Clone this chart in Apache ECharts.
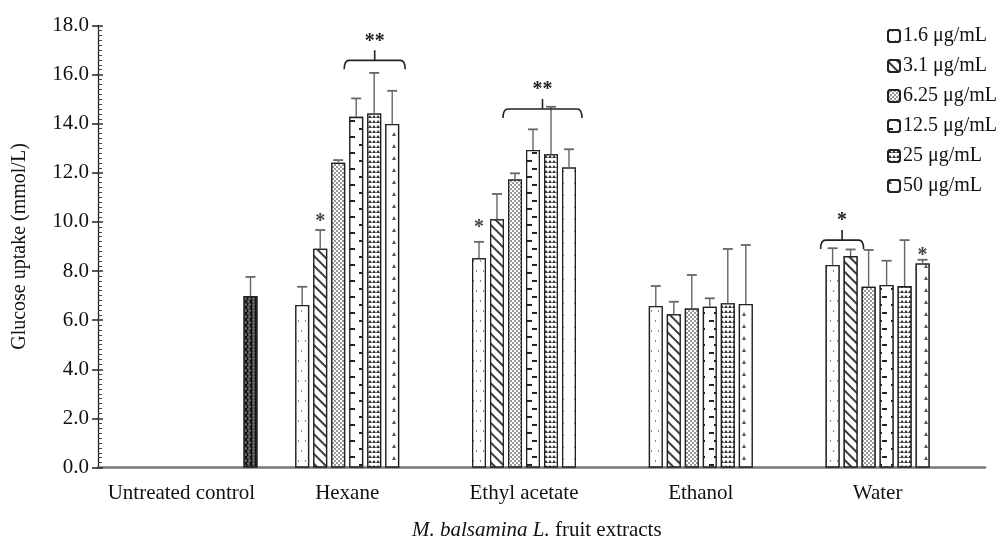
<!DOCTYPE html>
<html>
<head>
<meta charset="utf-8">
<script src="https://cdn.jsdelivr.net/npm/echarts@6/dist/echarts.min.js"></script>
<style>
  html, body { margin: 0; padding: 0; background: #fff; }
  #chart { width: 1006px; height: 542px; }
</style>
</head>
<body>
<div id="chart"></div>
<script>
// Extract categories and concentration levels
const categories = ['Untreated control', 'Hexane', 'Ethyl acetate', 'Ethanol', 'Water'];
const concentrations = ['1.6 μg/mL', '3.1 μg/mL', '6.25 μg/mL', '12.5 μg/mL', '25 μg/mL', '50 μg/mL'];

// Mean glucose uptake (mmol/L) per extract, one array per concentration
const mean_1_6  = [null, 6.62, 8.52, 6.58, 8.25];
const mean_3_1  = [null, 8.91, 10.11, 6.24, 8.61];
const mean_6_25 = [null, 12.41, 11.73, 6.48, 7.36];
const mean_12_5 = [null, 14.28, 12.93, 6.55, 7.43];
const mean_25   = [null, 14.42, 12.76, 6.69, 7.39];
const mean_50   = [null, 13.99, 12.22, 6.66, 8.31];

// Standard deviations (upper error bars)
const sd_1_6  = [null, 0.74, 0.67, 0.81, 0.68];
const sd_3_1  = [null, 0.76, 1.03, 0.51, 0.27];
const sd_6_25 = [null, 0.11, 0.25, 1.36, 1.50];
const sd_12_5 = [null, 0.75, 0.84, 0.34, 0.99];
const sd_25   = [null, 1.65, 1.93, 2.21, 1.87];
const sd_50   = [null, 1.35, 0.74, 2.40, 0.15];

// Untreated control
const controlMean = 6.98;
const controlSd = 0.78;

// Y axis ticks
const yTicks = [0, 2, 4, 6, 8, 10, 12, 14, 16, 18];

// Significance: grouped brackets (extract index, first and last concentration, level, mark)
const bracketCats  = [1, 2, 4];
const bracketFrom  = [3, 2, 0];
const bracketTo    = [5, 5, 1];
const bracketLevel = [16.58, 14.6, 9.26];
const bracketMarks = ['**', '**', '*'];

// Significance: single bars (extract index, concentration index, level)
const starCats   = [1, 2, 4];
const starSlots  = [1, 0, 5];
const starLevels = [10.0, 9.75, 8.62];

const means = [mean_1_6, mean_3_1, mean_6_25, mean_12_5, mean_25, mean_50];
const sds = [sd_1_6, sd_3_1, sd_6_25, sd_12_5, sd_25, sd_50];

const BAR_W = 14;
const BAR_GAP = 4;
const PITCH = BAR_W + BAR_GAP;
const N = concentrations.length;
const FONT = '"Liberation Serif", "Times New Roman", serif';

const decals = [
  { symbol: 'rect', symbolSize: 1, color: '#8a8a8a', backgroundColor: '#fff', dashArrayX: [[1, 6], [0, 4, 1, 2]], dashArrayY: [1.5, 8] },
  { symbol: 'rect', symbolSize: 1, color: '#3a3a3a', backgroundColor: '#fff', dashArrayX: [1, 0], dashArrayY: [1.6, 5], rotation: Math.PI / 4 },
  { symbol: 'circle', symbolSize: 0.9, color: '#6a6a6a', backgroundColor: '#fff', dashArrayX: [[2, 2], [0, 2, 2, 0]], dashArrayY: [2, 0] },
  { symbol: 'rect', symbolSize: 1, color: '#222', backgroundColor: '#fff', dashArrayX: [[5, 9], [0, 9, 5, 0]], dashArrayY: [2, 6] },
  { symbol: 'triangle', symbolSize: 1, color: '#333', backgroundColor: '#fff', dashArrayX: [4, 0], dashArrayY: [3, 1.5] },
  { symbol: 'triangle', symbolSize: 1, color: '#555', backgroundColor: '#fff', dashArrayX: [4, 10], dashArrayY: [4, 8] }
];
const controlDecal = { symbol: 'circle', symbolSize: 1, color: '#6a6a6a', backgroundColor: '#111', dashArrayX: [[3, 1], [0, 2, 3, 0]], dashArrayY: [3, 0] };

// Error bar data: [category, mean, top, slot, slotsInGroup]
const errData = [];
for (let s = 0; s < N; s++) {
  for (let c = 0; c < categories.length; c++) {
    if (means[s][c] == null) continue;
    errData.push([c, means[s][c], means[s][c] + sds[s][c], s, N]);
  }
}
const controlErrData = [[0, controlMean, controlMean + controlSd, 0, 1]];

function slotX(api, cat, val, slot, n) {
  const p = api.coord([cat, val]);
  return p[0] + (slot - (n - 1) / 2) * PITCH;
}

function renderError(params, api) {
  const cat = api.value(0), mean = api.value(1), top = api.value(2), slot = api.value(3), n = api.value(4);
  const x = slotX(api, cat, mean, slot, n);
  const y0 = api.coord([cat, mean])[1];
  const y1 = api.coord([cat, top])[1];
  const half = 5;
  return {
    type: 'group',
    children: [
      { type: 'line', shape: { x1: x, y1: y0, x2: x, y2: y1 }, style: { stroke: '#666', lineWidth: 1.4 } },
      { type: 'line', shape: { x1: x - half, y1: y1, x2: x + half, y2: y1 }, style: { stroke: '#666', lineWidth: 1.8 } }
    ]
  };
}

const bracketData = bracketCats.map((c, i) => [c, bracketLevel[i], bracketFrom[i], bracketTo[i]]);
function renderBracket(params, api) {
  const cat = api.value(0), lvl = api.value(1), from = api.value(2), to = api.value(3);
  const y = api.coord([cat, lvl])[1];
  const x1 = slotX(api, cat, lvl, from, N) - BAR_W / 2 - 5;
  const x2 = slotX(api, cat, lvl, to, N) + BAR_W / 2 + 6;
  const cx = (x1 + x2) / 2;
  const r = 5;
  const path = `M${x1} ${y + 9} Q${x1} ${y} ${x1 + r} ${y} L${x2 - r} ${y} Q${x2} ${y} ${x2} ${y + 9} M${cx} ${y} L${cx} ${y - 10}`;
  return {
    type: 'group',
    children: [
      { type: 'path', shape: { pathData: path }, style: { fill: null, stroke: '#222', lineWidth: 1.6 } },
      { type: 'text', style: { x: cx, y: y - 19, text: bracketMarks[params.dataIndex], textAlign: 'center', textVerticalAlign: 'middle', font: 'bold 20px ' + FONT, fill: '#222' } }
    ]
  };
}

const starData = starCats.map((c, i) => [c, starLevels[i], starSlots[i]]);
function renderStar(params, api) {
  const cat = api.value(0), lvl = api.value(1), slot = api.value(2);
  const x = slotX(api, cat, lvl, slot, N);
  const y = api.coord([cat, lvl])[1];
  return { type: 'text', style: { x: x, y: y, text: '*', textAlign: 'center', textVerticalAlign: 'middle', font: 'bold 20px ' + FONT, fill: '#444' } };
}

const barSeries = concentrations.map((name, s) => ({
  type: 'bar',
  name: name,
  xAxisIndex: 0,
  yAxisIndex: 0,
  data: means[s],
  barWidth: BAR_W,
  barGap: (BAR_GAP / BAR_W * 100) + '%',
  itemStyle: { color: '#fff', borderColor: '#222', borderWidth: 1.3, decal: decals[s] },
  z: 2
}));

const option = {
  animation: false,
  backgroundColor: '#fff',
  textStyle: { fontFamily: FONT, color: '#111' },
  title: {
    text: '{i|M. balsamina L.} fruit extracts',
    left: 407,
    top: 515,
    textStyle: {
      fontFamily: FONT, fontSize: 21, fontWeight: 'normal', color: '#111',
      rich: { i: { fontFamily: FONT, fontSize: 21, fontStyle: 'italic', color: '#111' } }
    }
  },
  legend: {
    data: concentrations,
    orient: 'vertical',
    left: 882,
    top: 21,
    icon: 'roundRect',
    itemWidth: 12,
    itemHeight: 12,
    itemGap: 10,
    textStyle: { fontFamily: FONT, fontSize: 20, color: '#111', lineHeight: 20, padding: [0, 0, 0, -2] }
  },
  grid: [
    { left: 82, width: 884, top: 25.5, bottom: 74.5 },
    { left: 98, right: 21, top: 25.5, bottom: 74.5 },
    { left: 230.5, width: 40, top: 25.5, bottom: 74.5 }
  ],
  xAxis: [
    {
      gridIndex: 0, type: 'category', data: categories,
      axisLine: { show: false }, axisTick: { show: false },
      axisLabel: {
        interval: 0, margin: 15, fontSize: 21, color: '#111', fontFamily: FONT,
        formatter: (v, i) => i === 0 ? '{c|' + v + '}' : v,
        rich: { c: { fontSize: 21, fontFamily: FONT, color: '#111', padding: [0, 0, 0, 22] } }
      }
    },
    {
      gridIndex: 1, type: 'value', min: 0, max: 1,
      axisLine: { show: true, lineStyle: { color: '#777', width: 2.5 } },
      axisTick: { show: false }, axisLabel: { show: false }, splitLine: { show: false }
    },
    { gridIndex: 2, type: 'category', data: [categories[0]], show: false }
  ],
  yAxis: [
    { gridIndex: 0, type: 'value', min: 0, max: 18, show: false },
    {
      gridIndex: 1, type: 'value', position: 'left', min: yTicks[0], max: yTicks[yTicks.length - 1], interval: 2,
      name: 'Glucose uptake (mmol/L)', nameLocation: 'middle', nameGap: 68,
      nameTextStyle: { fontFamily: FONT, fontSize: 20, color: '#111' },
      axisLine: { show: true, lineStyle: { color: '#222', width: 1.3 } },
      axisTick: { show: true, length: 6, lineStyle: { color: '#222', width: 1.5 } },
      axisLabel: { fontSize: 21, color: '#111', margin: 9, formatter: v => v.toFixed(1) },
      splitLine: { show: false }
    },
    { gridIndex: 2, type: 'value', min: 0, max: 18, show: false },
    {
      gridIndex: 1, type: 'value', position: 'left', offset: 0, min: 0, max: 18, interval: 2,
      axisLine: { show: false }, axisLabel: { show: false }, splitLine: { show: false },
      axisTick: { show: true, inside: true, length: 5, lineStyle: { color: '#333', width: 1.5 } },
      minorTick: { show: true, splitNumber: 10, length: 4, lineStyle: { color: '#444' } }
    }
  ],
  series: [
    ...barSeries,
    {
      type: 'bar', name: categories[0], xAxisIndex: 2, yAxisIndex: 2,
      data: [controlMean], barWidth: BAR_W,
      itemStyle: { color: '#111', borderColor: '#222', borderWidth: 1.3, decal: controlDecal }
    },
    { type: 'custom', xAxisIndex: 0, yAxisIndex: 0, renderItem: renderError, data: errData, z: 3 },
    { type: 'custom', xAxisIndex: 2, yAxisIndex: 2, renderItem: renderError, data: controlErrData, z: 3 },
    { type: 'custom', xAxisIndex: 0, yAxisIndex: 0, renderItem: renderBracket, data: bracketData, z: 4, clip: false },
    { type: 'custom', xAxisIndex: 0, yAxisIndex: 0, renderItem: renderStar, data: starData, z: 4, clip: false }
  ]
};

const chart = echarts.init(document.getElementById('chart'), null, { renderer: 'canvas' });
chart.setOption(option);
</script>
</body>
</html>
